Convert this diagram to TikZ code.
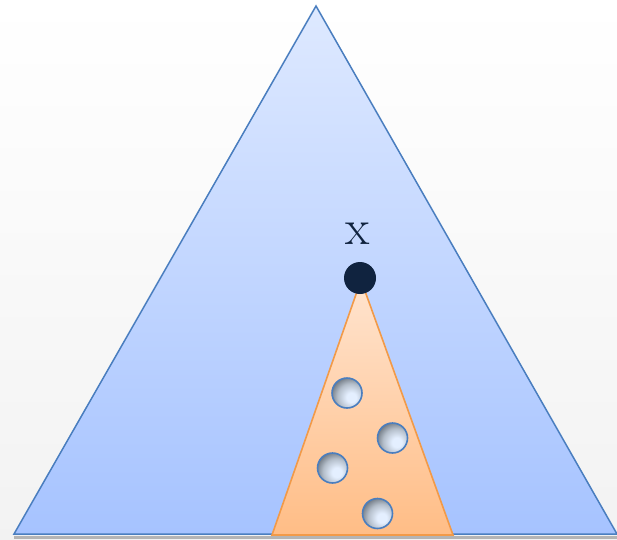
\documentclass[tikz,border=0pt]{standalone}
\usepackage{tikz}
\definecolor{bluestroke}{HTML}{4A7EBF}
\definecolor{bluetop}{HTML}{DEE9FF}
\definecolor{bluebot}{HTML}{A6C3FF}
\definecolor{orstroke}{HTML}{F29A48}
\definecolor{ortop}{HTML}{FFE4CF}
\definecolor{orbot}{HTML}{FFBD86}
\definecolor{dotcol}{HTML}{10233F}
\definecolor{ballin}{HTML}{E4EFFF}
\definecolor{ballmid}{HTML}{B4BECA}
\definecolor{ballout}{HTML}{5E666F}
\pgfdeclareradialshading{ballshade}{\pgfpoint{8bp}{-8bp}}{color(0bp)=(ballin); color(8bp)=(ballin); color(22bp)=(ballmid); color(36bp)=(ballout); color(100bp)=(ballout)}
\tikzset{
  ballnode/.style={circle, minimum size=30pt, inner sep=0pt, draw=bluestroke, line width=1.6pt,
     shading=ballshade},
  dotnode/.style={circle, minimum size=32pt, inner sep=0pt, fill=dotcol},
}
\begin{document}
\begin{tikzpicture}[x=1pt,y=-1pt]
\useasboundingbox (0,0) rectangle (617,539);
\shade[top color=white, bottom color=black!5] (0,0) rectangle (617,539);
% shadow
\fill[black!45, opacity=0.6] (14,536) -- (617,536) -- (617,539) -- (14,539) -- cycle;
% big triangle
\coordinate (A) at (316,6);
\coordinate (B) at (14,534);
\coordinate (C) at (617,534);
\shade[top color=bluetop, bottom color=bluebot] (A) -- (B) -- (C) -- cycle;
\draw[bluestroke, line width=1.5pt, line join=miter] (A) -- (B) -- (C) -- cycle;
% orange triangle
\coordinate (P) at (361,280);
\coordinate (Q) at (272,535);
\coordinate (R) at (453,535);
\shade[top color=ortop, bottom color=orbot] (P) -- (Q) -- (R) -- cycle;
\draw[orstroke, line width=1.6pt] (P) -- (Q) -- (R) -- cycle;
% dot and label
\node[dotnode] (x) at (360,278) {};
\node[text=dotcol, font=\fontsize{50}{50}\selectfont, inner sep=0pt] (lab) at (358,234) {x};
% balls
\node[ballnode] (b1) at (347,393) {};
\node[ballnode] (b2) at (392.5,438) {};
\node[ballnode] (b3) at (332.5,468) {};
\node[ballnode] (b4) at (377.5,513.5) {};
\end{tikzpicture}
\end{document}
